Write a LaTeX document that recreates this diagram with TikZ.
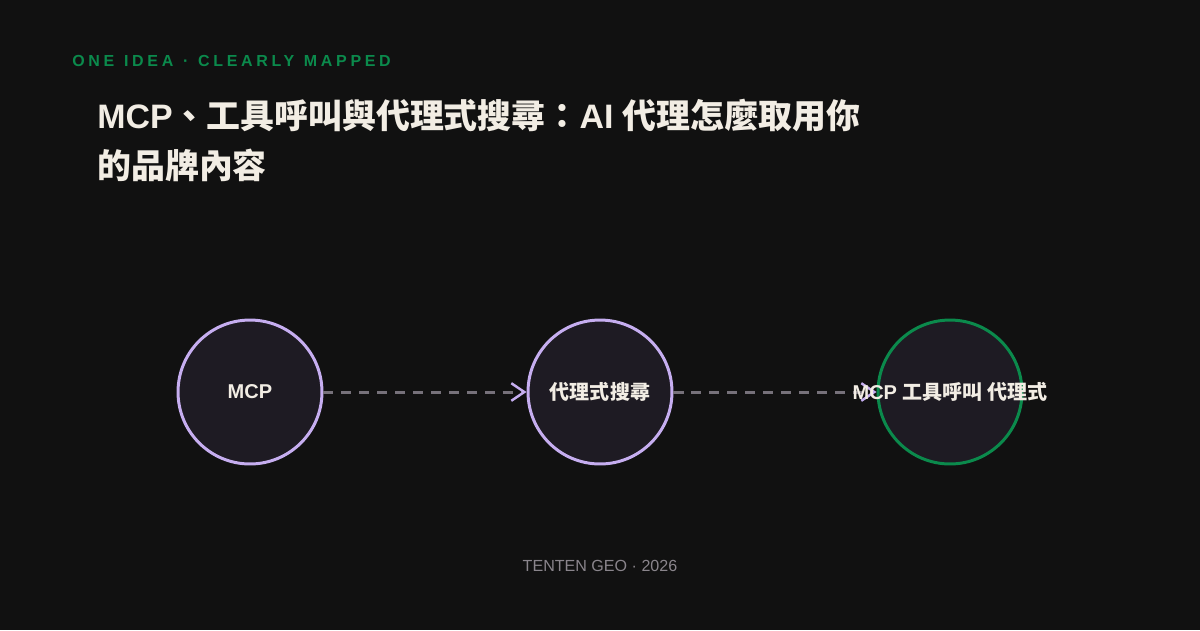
\documentclass[tikz,border=0pt]{standalone}
\usepackage{fontspec}
\setmainfont{Liberation Sans}
\newfontfamily\cjk{Noto Sans CJK TC}
\newfontface\tagfont{Liberation Sans Bold}[LetterSpace=23,WordSpace=1.2]
\usetikzlibrary{arrows.meta}
\definecolor{bg}{HTML}{111111}
\definecolor{ink}{HTML}{F2EDE4}
\definecolor{lilac}{HTML}{C6AEF0}
\definecolor{leaf}{HTML}{0B8A4C}
\definecolor{disc}{HTML}{1E1B23}
\definecolor{linegray}{HTML}{76717A}
\definecolor{foot}{HTML}{8A858C}

\begin{document}
\begin{tikzpicture}[x=0.02cm,y=-0.02cm,
  hub/.style={circle,draw=lilac,line width=1.7pt,fill=disc,minimum size=2.88cm,inner sep=0pt},
  txt/.style={text=ink,font=\fontsize{11.4}{13}\selectfont\bfseries,inner sep=0pt},
  flow/.style={draw=linegray,line width=1.7pt,dash pattern=on 5.7pt off 4.5pt,
    -{Straight Barb[length=7.4pt,width=10pt,line width=1.4pt,color=lilac]}}]
  \fill[bg] (0,0) rectangle (1200,630);

  \node[anchor=base west,text=leaf,inner sep=0pt,
    font=\tagfont\fontsize{9.1}{11}\selectfont] (tag) at (72,66)
    {ONE IDEA · CLEARLY MAPPED};
  \node[anchor=north west,align=left,text=ink,inner sep=0pt,
    font=\fontsize{19.3}{28.5}\selectfont\bfseries] (title) at (97,99)
    {MCP{\cjk 、工具呼叫與代理式搜尋：}AI {\cjk 代理怎麼取用你}\\{\cjk 的品牌內容}};

  \node[hub] (a) at (250,392) {};
  \node[hub] (b) at (600,392) {};
  \node[hub,draw=leaf] (c) at (950,392) {};

  \draw[flow] (a) -- (b);
  \draw[flow] (b) -- (c);

  \node[txt] (at) at (a) {MCP};
  \node[txt] (bt) at (b) {\cjk 代理式搜尋};
  \node[txt] (ct) at (c) {MCP {\cjk 工具呼叫 代理式}};

  \node[anchor=base,text=foot,inner sep=0pt,font=\fontsize{9.15}{11}\selectfont] (credit) at (600,571)
    {TENTEN GEO · 2026};
\end{tikzpicture}
\end{document}
